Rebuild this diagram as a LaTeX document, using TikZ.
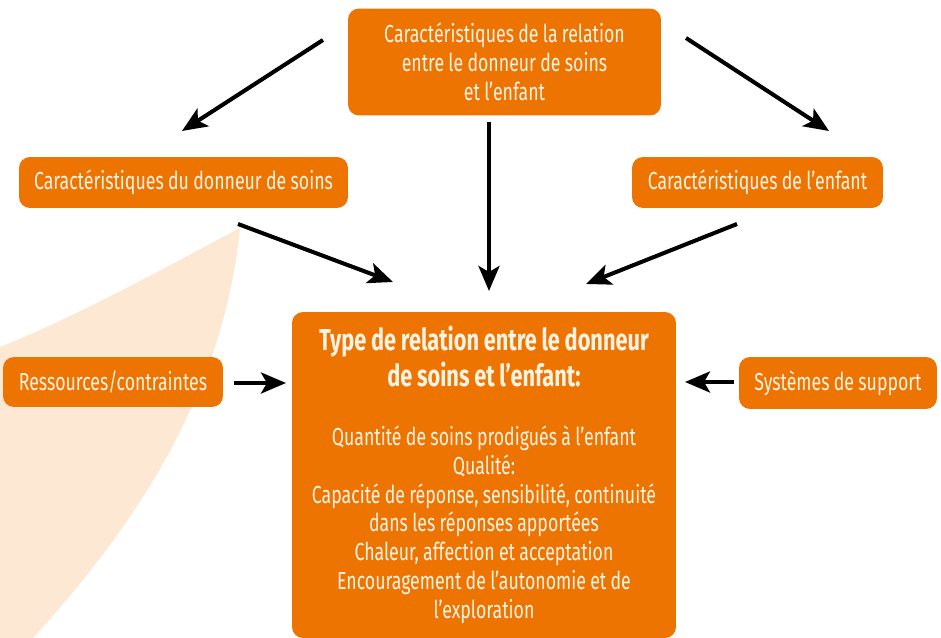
\documentclass[tikz,border=0pt]{standalone}
\usepackage{fontspec}
\setmainfont{Fira Sans}[FakeStretch=0.72, WordSpace=0.92]
\usetikzlibrary{%
	arrows.meta,%
	calc%
}
\definecolor{carrot}{RGB}{238,116,2}
\definecolor{peach}{RGB}{253,232,212}
\definecolor{cream}{RGB}{255,244,228}
\newcommand{\ttlfont}{\fontsize{17.2}{20.4}\selectfont\bfseries}
\newcommand{\txtfont}{\fontsize{14}{16.4}\selectfont\mdseries}

\tikzset{
	box/.style={fill=carrot, rounded corners=0.22cm, text=cream, align=center,
		font=\txtfont, inner sep=0pt},
	arr/.style={line width=2.3pt, -{Stealth[length=0.5cm, width=0.42cm, inset=0.12cm]}}
}

\begin{document}
\begin{tikzpicture}[x=0.02cm, y=-0.02cm]
	\useasboundingbox (0,0) rectangle (941,638);
	
	% Background shape
	\fill[peach] (240,228) .. controls (170,265) and (80,315) .. (0,347)
		-- (0,638) -- (33,638) .. controls (150,510) and (225,380) .. (240,228);
	
	% Boxes
	\node[box, minimum width=6.26cm, minimum height=2.14cm] (rel) at (504.5,62)
		{Caractéristiques de la relation\\entre le donneur de soins\\et l’enfant};
	\node[box, minimum width=6.58cm, minimum height=1.02cm] (giver) at (183.5,182.5)
		{Caractéristiques du donneur de soins};
	\node[box, minimum width=5.02cm, minimum height=1.02cm] (child) at (757.5,182.5)
		{Caractéristiques de l’enfant};
	\node[box, minimum width=4.4cm, minimum height=1.0cm] (res) at (113,382)
		{Ressources/contraintes};
	\node[box, minimum width=3.96cm, minimum height=1.04cm] (supp) at (838,383)
		{Systèmes de support};
	\node[box, align=flush center, minimum width=7.68cm, minimum height=6.52cm, text width=7.6cm] (type) at (484,475)
		{\ttlfont Type de relation entre le donneur\\de soins et l’enfant:\par
		\vspace{0.6cm}\txtfont
		Quantité de soins prodigués à l’enfant\\
		Qualité:\\
		Capacité de réponse, sensibilité, continuité\\
		dans les réponses apportées\\
		Chaleur, affection et acceptation\\
		Encouragement de l’autonomie et de\\
		l’exploration};
	
	% Arrow ends
	\coordinate (a1) at (323,40);   \coordinate (b1) at (182,131);
	\coordinate (a2) at (489,122);  \coordinate (b2) at (489,291);
	\coordinate (a3) at (686,38);   \coordinate (b3) at (829,131);
	\coordinate (a4) at (238,224);  \coordinate (b4) at (393,282);
	\coordinate (a5) at (737,224);  \coordinate (b5) at (586,284);
	\coordinate (a6) at (234,383);  \coordinate (b6) at (286,383);
	\coordinate (a7) at (734,382);  \coordinate (b7) at (685,382);
	
	% Arrows
	\foreach \i in {1,...,7}
		\draw[arr] (a\i) -- (b\i);
\end{tikzpicture}
\end{document}
